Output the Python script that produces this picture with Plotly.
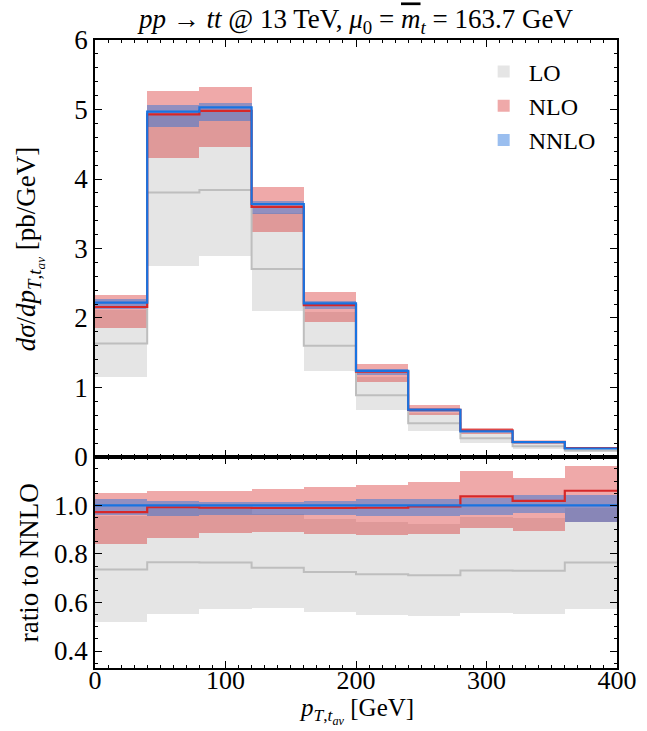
import numpy as np
import plotly.graph_objects as go

# Bin edges of the average top-quark transverse momentum [GeV]
edges = [0, 40, 80, 120, 160, 200, 240, 280, 320, 360, 400]

# NNLO central prediction [pb/GeV]
nnlo_central = [2.22, 4.97, 5.03, 3.64, 2.21, 1.24, 0.68, 0.37, 0.213, 0.122]

# Scale-variation envelopes and central values, as ratio to NNLO central
nnlo_lo_r = [0.962, 0.956, 0.962, 0.962, 0.962, 0.955, 0.955, 0.962, 0.969, 0.930]
nnlo_hi_r = [1.026, 1.018, 1.012, 1.012, 1.016, 1.026, 1.028, 1.030, 1.041, 1.044]

nlo_c_r = [0.972, 0.992, 0.990, 0.989, 0.989, 0.990, 0.996, 1.037, 1.018, 1.060]
nlo_lo_r = [0.839, 0.866, 0.887, 0.889, 0.880, 0.876, 0.880, 0.907, 0.894, 0.930]
nlo_hi_r = [1.051, 1.061, 1.057, 1.067, 1.074, 1.082, 1.095, 1.140, 1.113, 1.163]

lo_c_r = [0.736, 0.766, 0.764, 0.743, 0.725, 0.716, 0.712, 0.732, 0.730, 0.764]
lo_lo_r = [0.518, 0.553, 0.575, 0.579, 0.561, 0.549, 0.545, 0.555, 0.552, 0.575]
lo_hi_r = [0.955, 0.990, 0.990, 0.965, 0.945, 0.930, 0.925, 0.950, 0.948, 0.990]

edges_a = np.array(edges, dtype=float)
centers = 0.5 * (edges_a[:-1] + edges_a[1:])
widths = np.diff(edges_a)
ref = np.array(nnlo_central)

FONT = "Liberation Serif"
C_LO_BAND = "rgb(229,229,229)"
C_LO_LINE = "rgb(190,190,190)"
C_NLO_BAND = "rgba(214,39,40,0.40)"
C_NLO_LINE = "rgb(214,39,40)"
C_NNLO_BAND = "rgba(30,110,220,0.45)"
C_NNLO_LINE = "rgb(25,115,225)"

orders = [
    ("LO", lo_lo_r, lo_hi_r, lo_c_r, C_LO_BAND, C_LO_LINE, 2),
    ("NLO", nlo_lo_r, nlo_hi_r, nlo_c_r, C_NLO_BAND, C_NLO_LINE, 2.2),
    ("NNLO", nnlo_lo_r, nnlo_hi_r, [1.0] * len(ref), C_NNLO_BAND, C_NNLO_LINE, 2.2),
]

fig = go.Figure()


def step(vals):
    v = list(vals)
    return v + [v[-1]]


for panel, (xa, ya) in enumerate([("x", "y"), ("x2", "y2")]):
    scale = ref if panel == 0 else np.ones_like(ref)
    # uncertainty bands
    for name, lo, hi, c, band, line, lw in orders:
        lo_v = np.array(lo) * scale
        hi_v = np.array(hi) * scale
        fig.add_trace(go.Bar(
            x=centers, y=hi_v - lo_v, base=lo_v, width=widths,
            marker=dict(color=band, line=dict(width=0)),
            name=name, showlegend=(panel == 0), legendgroup=name,
            xaxis=xa, yaxis=ya, hoverinfo="skip",
        ))
    # central values
    for name, lo, hi, c, band, line, lw in orders:
        c_v = np.array(c) * scale
        fig.add_trace(go.Scatter(
            x=edges, y=step(c_v), mode="lines", line=dict(shape="hv", color=line, width=lw),
            showlegend=False, legendgroup=name, xaxis=xa, yaxis=ya, hoverinfo="skip",
        ))

tickfont = dict(family=FONT, size=27, color="black")
common_axis = dict(
    showline=True, linecolor="black", linewidth=1.5, mirror="allticks",
    ticks="inside", ticklen=7, tickwidth=1.3, tickcolor="black",
    showgrid=False, zeroline=False, tickfont=tickfont, automargin=False,
)
minor_ticks = dict(ticks="inside", ticklen=3.5, tickcolor="black", tickwidth=1)

# axis titles placed as paper annotations
title_font = dict(family=FONT, size=27, color="black")
annotations = [
    dict(text="<i>dσ</i>/<i>dp</i><sub><i>T</i>,<i>t</i><sub><i>av</i></sub></sub> [pb/GeV]",
         xref="paper", yref="paper", x=-0.125, y=0.668, textangle=-90,
         xanchor="center", yanchor="middle", showarrow=False, font=title_font),
    dict(text="ratio to NNLO",
         xref="paper", yref="paper", x=-0.125, y=0.168, textangle=-90,
         xanchor="center", yanchor="middle", showarrow=False, font=title_font),
    dict(text="<i>p</i><sub><i>T</i>,<i>t</i><sub><i>av</i></sub></sub> [GeV]",
         xref="paper", yref="paper", x=0.5, y=-63 / 628, yshift=1,
         xanchor="center", yanchor="bottom", showarrow=False,
         font=dict(family=FONT, size=25, color="black")),
]

fig.update_layout(
    width=647, height=731,
    margin=dict(l=95, r=30, t=40, b=63, autoexpand=False),
    paper_bgcolor="white", plot_bgcolor="white",
    barmode="overlay", bargap=0,
    font=dict(family=FONT, size=24, color="black"),
    title=dict(
        text="<i>pp</i> → <i>tt</i> @ 13 TeV, <i>μ</i><sub>0</sub> = "
             "<i><span style=\"text-decoration:overline\">m</span></i><sub><i>t</i></sub> = 163.7 GeV",
        x=0.5, xref="paper", xanchor="center",
        y=1 - 19 / 731, yref="container", yanchor="middle",
        font=dict(family=FONT, size=27),
    ),
    legend=dict(
        x=0.735, y=0.985, xanchor="left", yanchor="top",
        bgcolor="rgba(0,0,0,0)", font=dict(family=FONT, size=24),
        itemwidth=40, tracegroupgap=0,
    ),
    annotations=annotations,
    xaxis=dict(
        common_axis, domain=[0, 1], range=[0, 400], anchor="y",
        dtick=100, tick0=0, showticklabels=False,
        minor=dict(minor_ticks, dtick=10),
    ),
    yaxis=dict(
        common_axis, domain=[0.336, 1], range=[0, 6], anchor="x",
        dtick=1, tick0=0,
        minor=dict(minor_ticks, dtick=0.2),
    ),
    xaxis2=dict(
        common_axis, domain=[0, 1], range=[0, 400], anchor="y2", matches="x",
        dtick=100, tick0=0, ticklabelstandoff=-12,
        tickfont=dict(family=FONT, size=26, color="black"),
        minor=dict(minor_ticks, dtick=10),
    ),
    yaxis2=dict(
        common_axis, domain=[0, 0.336], range=[0.33, 1.199], anchor="x2",
        dtick=0.2, tick0=0, tickformat=".1f",
        minor=dict(minor_ticks, dtick=0.05),
    ),
)

fig.write_html("out.html")
